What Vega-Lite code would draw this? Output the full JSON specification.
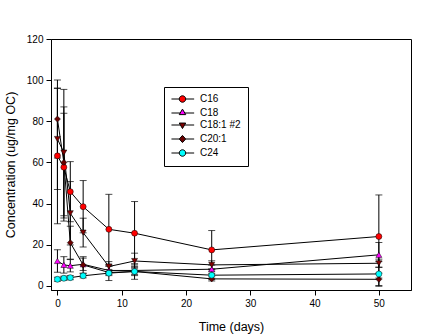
{
  "$schema": "https://vega.github.io/schema/vega-lite/v6.json",
  "width": 360,
  "height": 251,
  "autosize": "none",
  "padding": {"left": 51, "top": 39, "right": 21, "bottom": 46},
  "background": "white",
  "config": {
    "font": "Liberation Sans",
    "view": {"stroke": "black", "strokeWidth": 1},
    "axis": {
      "grid": false,
      "domainColor": "black",
      "tickColor": "black",
      "tickSize": 5,
      "labelColor": "black",
      "labelFontSize": 10,
      "titleColor": "black",
      "titleFontSize": 12.5,
      "titleFontWeight": "normal",
      "labelFont": "Liberation Sans",
      "titleFont": "Liberation Sans"
    }
  },
  "data": {
    "values": [
      {"s": "C16", "t": 0, "v": 63.2, "sd": 33},
      {"s": "C16", "t": 1, "v": 57.7, "sd": 26.2},
      {"s": "C16", "t": 2, "v": 45.8, "sd": 14.6},
      {"s": "C16", "t": 4, "v": 38.5, "sd": 12.7},
      {"s": "C16", "t": 8, "v": 27.5, "sd": 17},
      {"s": "C16", "t": 12, "v": 25.6, "sd": 15.4},
      {"s": "C16", "t": 24, "v": 17.5, "sd": 9.4},
      {"s": "C16", "t": 50, "v": 24, "sd": 20.2},
      {"s": "C18", "t": 0, "v": 12.1, "sd": 5.5},
      {"s": "C18", "t": 1, "v": 10.2, "sd": 4},
      {"s": "C18", "t": 2, "v": 9.8, "sd": 3},
      {"s": "C18", "t": 4, "v": 10.5, "sd": 3},
      {"s": "C18", "t": 8, "v": 7.5, "sd": 2},
      {"s": "C18", "t": 12, "v": 7.5, "sd": 2},
      {"s": "C18", "t": 24, "v": 8.1, "sd": 2},
      {"s": "C18", "t": 50, "v": 15.1, "sd": 6},
      {"s": "C18:1 #2", "t": 0, "v": 71.4, "sd": 24.6},
      {"s": "C18:1 #2", "t": 1, "v": 64.8, "sd": 30.7},
      {"s": "C18:1 #2", "t": 2, "v": 35.3, "sd": 15.4},
      {"s": "C18:1 #2", "t": 4, "v": 25.9, "sd": 7},
      {"s": "C18:1 #2", "t": 8, "v": 9.4, "sd": 2.4},
      {"s": "C18:1 #2", "t": 12, "v": 12.1, "sd": 3.8},
      {"s": "C18:1 #2", "t": 24, "v": 10.2, "sd": 2},
      {"s": "C18:1 #2", "t": 50, "v": 11, "sd": 2},
      {"s": "C20:1", "t": 0, "v": 81.1, "sd": 19},
      {"s": "C20:1", "t": 1, "v": 60, "sd": 27},
      {"s": "C20:1", "t": 2, "v": 21, "sd": 8},
      {"s": "C20:1", "t": 4, "v": 10.2, "sd": 4},
      {"s": "C20:1", "t": 8, "v": 6.5, "sd": 1.5},
      {"s": "C20:1", "t": 12, "v": 7, "sd": 2},
      {"s": "C20:1", "t": 24, "v": 3.4, "sd": 1},
      {"s": "C20:1", "t": 50, "v": 3.2, "sd": 3},
      {"s": "C24", "t": 0, "v": 3.2, "sd": 1},
      {"s": "C24", "t": 1, "v": 3.7, "sd": 1},
      {"s": "C24", "t": 2, "v": 4, "sd": 1},
      {"s": "C24", "t": 4, "v": 4.9, "sd": 1},
      {"s": "C24", "t": 8, "v": 6.2, "sd": 3.6},
      {"s": "C24", "t": 12, "v": 7, "sd": 3.8},
      {"s": "C24", "t": 24, "v": 5.2, "sd": 2},
      {"s": "C24", "t": 50, "v": 5.8, "sd": 6}
    ]
  },
  "encoding": {
    "x": {
      "field": "t",
      "type": "quantitative",
      "title": "Time (days)",
      "scale": {"domain": [-1, 55], "nice": false, "zero": false},
      "axis": {"values": [0, 10, 20, 30, 40, 50], "labelPadding": 3, "titlePadding": 12}
    },
    "y": {
      "field": "v",
      "type": "quantitative",
      "title": "Concentration (ug/mg OC)",
      "scale": {"domain": [-2, 120], "nice": false, "zero": false},
      "axis": {"values": [0, 20, 40, 60, 80, 100, 120], "labelPadding": 3, "titlePadding": 9}
    }
  },
  "layer": [
    {
      "mark": {"type": "errorbar", "ticks": {"size": 7, "color": "black"}, "color": "black", "thickness": 1, "clip": true},
      "encoding": {
        "yError": {"field": "sd"},
        "detail": {"field": "s"}
      }
    },
    {
      "mark": {"type": "line", "color": "black", "strokeWidth": 1},
      "encoding": {"detail": {"field": "s"}}
    },
    {
      "mark": {"type": "point", "filled": true, "size": 36, "stroke": "black", "strokeWidth": 0.5, "opacity": 1},
      "encoding": {
        "color": {
          "field": "s",
          "type": "nominal",
          "scale": {"domain": ["C16", "C18", "C18:1 #2", "C20:1", "C24"], "range": ["#FF0000", "#FF00FF", "#800000", "#6B0000", "#00FFFF"]},
          "legend": null
        },
        "shape": {
          "field": "s",
          "type": "nominal",
          "scale": {"domain": ["C16", "C18", "C18:1 #2", "C20:1", "C24"], "range": ["circle", "triangle-up", "triangle-down", "diamond", "circle"]},
          "legend": null
        }
      }
    },
    {
      "transform": [{"filter": "datum.t > 1000"}],
      "mark": {"type": "point", "filled": true, "size": 42, "stroke": "black", "strokeWidth": 1, "opacity": 1},
      "encoding": {
        "color": {
          "field": "s",
          "type": "nominal",
          "scale": {"domain": ["C16", "C18", "C18:1 #2", "C20:1", "C24"], "range": ["#FF0000", "#FF00FF", "#800000", "#6B0000", "#00FFFF"]},
          "legend": {
            "title": null,
            "orient": "none",
            "legendX": 113,
            "legendY": 48,
            "strokeColor": "black",
            "fillColor": "white",
            "padding": 7,
            "labelFontSize": 10,
            "labelFont": "Liberation Sans",
            "labelColor": "black",
            "symbolSize": 42,
            "symbolStrokeColor": "black",
            "symbolStrokeWidth": 1,
            "rowPadding": 2,
            "labelOffset": 19,
            "offset": 0
          }
        },
        "shape": {
          "field": "s",
          "type": "nominal",
          "scale": {
            "domain": ["C16", "C18", "C18:1 #2", "C20:1", "C24"],
            "range": [
              "M-1.4,0H1M3,0H5.6M1,0A1,1,0,1,1,3,0A1,1,0,1,1,1,0Z",
              "M-1.4,0H1.29M2.71,0H5.6M2,-1.2L3,0.5L1,0.5Z",
              "M-1.4,0H1.35M2.65,0H5.6M1,-0.6L3,-0.6L2,1.1Z",
              "M-1.4,0H1M3,0H5.6M2,-1.1L3,0L2,1.1L1,0Z",
              "M-1.4,0H1M3,0H5.6M1,0A1,1,0,1,1,3,0A1,1,0,1,1,1,0Z"
            ]
          },
          "legend": {
            "title": null,
            "orient": "none",
            "legendX": 113,
            "legendY": 48,
            "strokeColor": "black",
            "fillColor": "white",
            "padding": 7,
            "labelFontSize": 10,
            "labelFont": "Liberation Sans",
            "labelColor": "black",
            "symbolSize": 42,
            "symbolStrokeColor": "black",
            "symbolStrokeWidth": 1,
            "rowPadding": 2,
            "labelOffset": 19,
            "offset": 0
          }
        }
      }
    }
  ],
  "resolve": {"scale": {"shape": "independent", "color": "independent"}}
}
